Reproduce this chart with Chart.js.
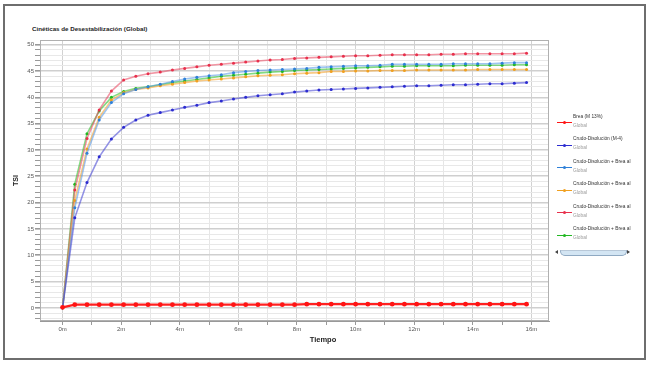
<!DOCTYPE html>
<html><head><meta charset="utf-8">
<script src="https://cdn.jsdelivr.net/npm/chart.js@4.4.1/dist/chart.umd.min.js"></script>
<style>
html,body{margin:0;padding:0;background:#fff;width:650px;height:365px;overflow:hidden;font-family:"Liberation Sans",Arial,sans-serif}
#frame{position:absolute;left:3px;top:4px;width:643px;height:356px;border:2px solid #6e6e6e;box-sizing:border-box}
#wrap{position:absolute;left:0;top:0;width:650px;height:365px}
#title{position:absolute;left:32px;top:25px;font-size:6.2px;line-height:7px;font-weight:bold;color:#222;white-space:nowrap}
#xtitle{position:absolute;left:303px;top:336px;width:40px;text-align:center;font-size:7.5px;line-height:8px;font-weight:bold;color:#222}
.lg{position:absolute;white-space:nowrap;font-size:4.8px;line-height:6px}
.mk{position:absolute;height:1px}
.dt{position:absolute;width:3px;height:3px;border-radius:50%}
#sb{position:absolute;left:560px;top:250px;width:65px;height:4px;background:#d3e5f3;border:1px solid #8fa9c2;border-top-color:#b8c8d8;border-radius:0 0 5px 5px}
.ar{position:absolute;width:0;height:0;border-top:2.5px solid transparent;border-bottom:2.5px solid transparent}
</style></head>
<body>
<div id="frame"></div>
<div id="title">Cinéticas de Desestabilización (Global)</div>
<div id="wrap"><canvas id="c"></canvas></div>
<div id="xtitle">Tiempo</div>
<div id="legend"></div>
<div id="sb"></div>
<div class="ar" style="left:555px;top:250px;border-right:3px solid #444"></div>
<div class="ar" style="left:627px;top:250px;border-left:3px solid #444"></div>
<script>
// time of each scan, seconds
const timesSec = [0,25,50,75,100,125,150,175,200,225,250,275,300,325,350,375,400,425,450,475,500,525,550,575,600,625,650,675,700,725,750,775,800,825,850,875,900,925,950];

const seriesNames = ['Brea (M 13%)','Crudo-Disolución (M-4)','Crudo-Disolución + Brea al','Crudo-Disolución + Brea al','Crudo-Disolución + Brea al','Crudo-Disolución + Brea al'];
const seriesSub = ['Global','Global','Global','Global','Global','Global'];

const breaM13 = [0.1,0.6,0.6,0.6,0.6,0.6,0.6,0.6,0.6,0.6,0.6,0.6,0.6,0.6,0.6,0.6,0.6,0.6,0.6,0.6,0.7,0.7,0.7,0.7,0.7,0.7,0.7,0.7,0.7,0.7,0.7,0.7,0.7,0.7,0.7,0.7,0.7,0.7,0.7];
const crudoM4 = [0,17.1,23.8,28.7,32.1,34.3,35.7,36.6,37.1,37.6,38.1,38.5,39.0,39.3,39.7,40.0,40.3,40.5,40.7,41.0,41.2,41.4,41.5,41.6,41.7,41.8,41.9,42.0,42.1,42.2,42.2,42.3,42.4,42.4,42.5,42.6,42.6,42.7,42.8];
const crudoBreaA = [0,19.0,29.4,35.7,39.0,40.7,41.5,42.0,42.5,43.0,43.5,43.8,44.1,44.3,44.7,44.9,45.1,45.2,45.3,45.4,45.5,45.7,45.8,45.9,46.0,46.0,46.1,46.3,46.3,46.3,46.3,46.3,46.4,46.4,46.4,46.4,46.5,46.6,46.6];
const crudoBreaB = [0,20.4,30.2,36.2,39.5,40.9,41.5,41.8,42.2,42.5,42.8,43.1,43.3,43.5,43.7,43.9,44.1,44.2,44.3,44.5,44.6,44.7,44.9,44.9,45.0,45.0,45.1,45.1,45.1,45.2,45.2,45.2,45.2,45.2,45.3,45.3,45.3,45.3,45.3];
const crudoBreaC = [0,22.4,32.2,37.6,41.2,43.3,44.0,44.5,44.8,45.2,45.5,45.8,46.1,46.3,46.5,46.7,46.9,47.1,47.2,47.4,47.5,47.6,47.7,47.8,47.9,47.9,48.0,48.1,48.1,48.1,48.1,48.2,48.2,48.3,48.3,48.3,48.3,48.3,48.4];
const crudoBreaD = [0,23.5,33.1,37.4,40.0,41.1,41.7,42.0,42.4,42.8,43.1,43.4,43.7,44.0,44.2,44.4,44.6,44.8,44.9,45.1,45.2,45.3,45.4,45.5,45.6,45.7,45.8,45.9,45.9,46.0,46.0,46.0,46.0,46.1,46.1,46.1,46.1,46.2,46.2];

const yTickValues = [0,5,10,15,20,25,30,35,40,45,50];
const xTickLabels = ['0m','2m','4m','6m','8m','10m','12m','14m','16m'];

const seriesValues = [breaM13, crudoM4, crudoBreaA, crudoBreaB, crudoBreaC, crudoBreaD];
const lineColors = ['rgba(255,20,20,0.95)','rgba(60,60,210,0.55)','rgba(80,150,230,0.55)','rgba(245,165,50,0.6)','rgba(232,64,90,0.55)','rgba(50,195,50,0.6)'];
const dotColors  = ['#ff1414','#2c2cd0','#2f80d8','#f0a020','#e8304c','#22b822'];
const lineW = [2.2,1.6,1.6,1.6,1.6,1.6];
const dotR  = [2.4,1.5,1.5,1.5,1.5,1.5];

const datasets = seriesValues.map((vals,k)=>({
  label: seriesNames[k],
  data: vals.map((v,i)=>({x: timesSec[i]/60, y: v})),
  borderColor: lineColors[k],
  backgroundColor: dotColors[k],
  pointBackgroundColor: dotColors[k],
  pointBorderColor: dotColors[k],
  borderWidth: lineW[k],
  pointRadius: dotR[k],
  pointBorderWidth: 0,
  tension: 0,
  fill: false
}));
datasets[0].order = -1;

const plotBox = {id:'plotBox', beforeDatasetsDraw(c){const a=c.chartArea,ctx=c.ctx;ctx.save();ctx.strokeStyle='#b0b0b0';ctx.lineWidth=1;ctx.strokeRect(a.left+0.5,a.top+0.5,a.width-1,a.height-1);ctx.restore();}};

const FONT = '"Liberation Sans", Arial, sans-serif';
new Chart(document.getElementById('c'), {
  type: 'line',
  data: { datasets },
  options: {
    responsive: true, maintainAspectRatio: false, animation: false,
    layout: { padding: { left: 8, top: 40, right: 101, bottom: 8 } },
    plugins: { legend: { display: false }, tooltip: { enabled: false }, title: { display: false } },
    scales: {
      x: {
        type: 'linear', min: -0.77, max: 16.6,
        afterFit: s => { s.height = 36; },
        afterBuildTicks: s => { const t=[]; for (let m=0; m<=16; m++) t.push({value:m}); s.ticks = t; },
        ticks: { font: { family: FONT, size: 6 }, color: '#555', padding: 1, maxRotation: 0, autoSkip: false,
          callback: v => { const idx = xTickLabels.indexOf(v + 'm'); return idx >= 0 ? xTickLabels[idx] : ''; } },
        grid: { color: c => (c.tick && c.tick.value % 2 === 0) ? '#d2d2d2' : '#e6e6e6', lineWidth: 1, tickLength: 4, tickColor: '#999' },
        border: { color: '#999' }
      },
      y: {
        type: 'linear', min: -2.5, max: 50.9,
        afterFit: s => { s.width = 32; },
        afterBuildTicks: s => { const t=[]; for (let v=-2; v<=50; v++) t.push({value:v}); s.ticks = t; },
        ticks: { font: { family: FONT, size: 6 }, color: '#555', padding: 1, autoSkip: false,
          callback: v => yTickValues.includes(v) ? String(v) : '' },
        grid: { color: c => (c.tick && c.tick.value % 5 === 0) ? '#cfcfcf' : '#e8e8e8',
                lineWidth: c => (c.tick && c.tick.value % 5 === 0) ? 1.6 : 1, tickLength: 5, tickColor: '#999' },
        border: { color: '#999' },
        title: { display: true, text: 'TSI', font: { family: FONT, size: 7, weight: 'bold' }, color: '#222', padding: { top: 4, bottom: 0 } }
      }
    }
  },
  plugins: [plotBox]
});

const lg = document.getElementById('legend');
seriesNames.forEach((name,k)=>{
  const y = 122.5 + 22.5*k;
  const mk = document.createElement('div'); mk.className='mk';
  mk.style.cssText = `left:557px;top:${y-0.5}px;width:15px;background:${dotColors[k]}`; lg.appendChild(mk);
  const dt = document.createElement('div'); dt.className='dt';
  dt.style.cssText = `left:563px;top:${y-1.5}px;background:${dotColors[k]}`; lg.appendChild(dt);
  const t1 = document.createElement('div'); t1.className='lg';
  t1.style.cssText = `left:573px;top:${y-9}px;color:#333`; t1.textContent = name; lg.appendChild(t1);
  const t2 = document.createElement('div'); t2.className='lg';
  t2.style.cssText = `left:573px;top:${y}px;color:#999`; t2.textContent = seriesSub[k]; lg.appendChild(t2);
});
</script>
</body></html>
